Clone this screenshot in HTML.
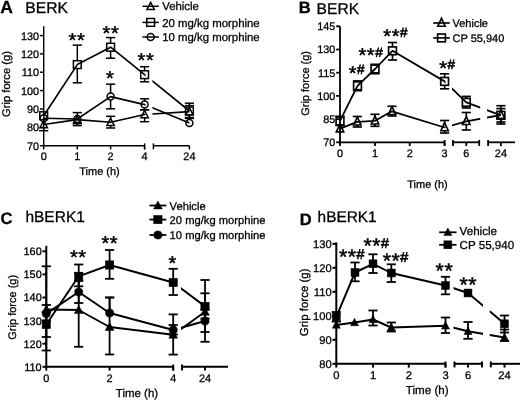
<!DOCTYPE html>
<html><head><meta charset="utf-8"><title>Grip force figure</title>
<style>
html,body{margin:0;padding:0;background:#fff;}
svg{display:block;font-family:"Liberation Sans", sans-serif;fill:#000;}
svg text{text-rendering:geometricPrecision;fill:#000;stroke:#000;stroke-width:0.28px;}
</style></head><body>
<svg width="520" height="402" viewBox="0 0 520 402">
<rect width="520" height="402" fill="#fff"/>
<text x="0.30" y="13.30" font-size="17.5" text-anchor="start" font-weight="bold" >A</text>
<text x="25.30" y="13.30" font-size="15.7" text-anchor="start" font-weight="normal" >BERK</text>
<line x1="43.70" y1="26.20" x2="43.70" y2="146.42" stroke="#000" stroke-width="1.45" />
<line x1="39.90" y1="35.60" x2="43.70" y2="35.60" stroke="#000" stroke-width="1.45" />
<text x="39.10" y="39.52" font-size="10.9" text-anchor="end" font-weight="normal" >130</text>
<line x1="39.90" y1="53.90" x2="43.70" y2="53.90" stroke="#000" stroke-width="1.45" />
<text x="39.10" y="57.82" font-size="10.9" text-anchor="end" font-weight="normal" >120</text>
<line x1="39.90" y1="72.20" x2="43.70" y2="72.20" stroke="#000" stroke-width="1.45" />
<text x="39.10" y="76.12" font-size="10.9" text-anchor="end" font-weight="normal" >110</text>
<line x1="39.90" y1="90.60" x2="43.70" y2="90.60" stroke="#000" stroke-width="1.45" />
<text x="39.10" y="94.52" font-size="10.9" text-anchor="end" font-weight="normal" >100</text>
<line x1="39.90" y1="109.00" x2="43.70" y2="109.00" stroke="#000" stroke-width="1.45" />
<text x="39.10" y="112.92" font-size="10.9" text-anchor="end" font-weight="normal" >90</text>
<line x1="39.90" y1="127.40" x2="43.70" y2="127.40" stroke="#000" stroke-width="1.45" />
<text x="39.10" y="131.32" font-size="10.9" text-anchor="end" font-weight="normal" >80</text>
<line x1="39.90" y1="145.70" x2="43.70" y2="145.70" stroke="#000" stroke-width="1.45" />
<text x="39.10" y="149.62" font-size="10.9" text-anchor="end" font-weight="normal" >70</text>
<line x1="43.70" y1="145.70" x2="144.60" y2="145.70" stroke="#000" stroke-width="1.45" />
<line x1="144.60" y1="143.40" x2="144.60" y2="149.30" stroke="#000" stroke-width="1.45" />
<line x1="153.40" y1="145.70" x2="189.40" y2="145.70" stroke="#000" stroke-width="1.45" />
<line x1="153.40" y1="143.40" x2="153.40" y2="149.30" stroke="#000" stroke-width="1.45" />
<line x1="43.70" y1="145.70" x2="43.70" y2="149.50" stroke="#000" stroke-width="1.45" />
<text x="43.70" y="160.40" font-size="10.9" text-anchor="middle" font-weight="normal" >0</text>
<line x1="77.30" y1="145.70" x2="77.30" y2="149.50" stroke="#000" stroke-width="1.45" />
<text x="77.30" y="160.40" font-size="10.9" text-anchor="middle" font-weight="normal" >1</text>
<line x1="110.60" y1="145.70" x2="110.60" y2="149.50" stroke="#000" stroke-width="1.45" />
<text x="110.60" y="160.40" font-size="10.9" text-anchor="middle" font-weight="normal" >2</text>
<line x1="144.60" y1="145.70" x2="144.60" y2="149.50" stroke="#000" stroke-width="1.45" />
<text x="144.60" y="160.40" font-size="10.9" text-anchor="middle" font-weight="normal" >4</text>
<line x1="189.40" y1="145.70" x2="189.40" y2="149.50" stroke="#000" stroke-width="1.45" />
<text x="189.40" y="160.40" font-size="10.9" text-anchor="middle" font-weight="normal" >24</text>
<text x="99.50" y="174.60" font-size="11" text-anchor="middle" font-weight="normal" >Time (h)</text>
<text transform="translate(9.60,84.00) rotate(-90)" font-size="11.2" text-anchor="middle">Grip force (g)</text>
<clipPath id="c1"><rect x="40.70" y="20" width="104.90" height="130"/><rect x="152.40" y="20" width="40.00" height="130"/></clipPath>
<line x1="43.70" y1="127.70" x2="43.70" y2="130.70" stroke="#000" stroke-width="1.5" />
<line x1="39.10" y1="130.70" x2="48.30" y2="130.70" stroke="#000" stroke-width="1.5" />
<line x1="77.30" y1="116.00" x2="77.30" y2="112.60" stroke="#000" stroke-width="1.5" />
<line x1="72.70" y1="112.60" x2="81.90" y2="112.60" stroke="#000" stroke-width="1.5" />
<line x1="77.30" y1="122.80" x2="77.30" y2="125.60" stroke="#000" stroke-width="1.5" />
<line x1="72.70" y1="125.60" x2="81.90" y2="125.60" stroke="#000" stroke-width="1.5" />
<line x1="110.60" y1="118.70" x2="110.60" y2="116.30" stroke="#000" stroke-width="1.5" />
<line x1="106.00" y1="116.30" x2="115.20" y2="116.30" stroke="#000" stroke-width="1.5" />
<line x1="110.60" y1="125.50" x2="110.60" y2="128.00" stroke="#000" stroke-width="1.5" />
<line x1="106.00" y1="128.00" x2="115.20" y2="128.00" stroke="#000" stroke-width="1.5" />
<line x1="144.60" y1="110.90" x2="144.60" y2="109.80" stroke="#000" stroke-width="1.5" />
<line x1="140.00" y1="109.80" x2="149.20" y2="109.80" stroke="#000" stroke-width="1.5" />
<line x1="144.60" y1="117.70" x2="144.60" y2="121.70" stroke="#000" stroke-width="1.5" />
<line x1="140.00" y1="121.70" x2="149.20" y2="121.70" stroke="#000" stroke-width="1.5" />
<line x1="189.40" y1="108.00" x2="189.40" y2="105.60" stroke="#000" stroke-width="1.5" />
<line x1="184.80" y1="105.60" x2="194.00" y2="105.60" stroke="#000" stroke-width="1.5" />
<line x1="189.40" y1="114.80" x2="189.40" y2="117.50" stroke="#000" stroke-width="1.5" />
<line x1="184.80" y1="117.50" x2="194.00" y2="117.50" stroke="#000" stroke-width="1.5" />
<polygon points="43.70,120.50 47.40,127.70 40.00,127.70" fill="none" stroke="#000" stroke-width="1.5" stroke-linejoin="miter"/>
<polygon points="77.30,115.60 81.00,122.80 73.60,122.80" fill="none" stroke="#000" stroke-width="1.5" stroke-linejoin="miter"/>
<polygon points="110.60,118.30 114.30,125.50 106.90,125.50" fill="none" stroke="#000" stroke-width="1.5" stroke-linejoin="miter"/>
<polygon points="144.60,110.50 148.30,117.70 140.90,117.70" fill="none" stroke="#000" stroke-width="1.5" stroke-linejoin="miter"/>
<polygon points="189.40,107.60 193.10,114.80 185.70,114.80" fill="none" stroke="#000" stroke-width="1.5" stroke-linejoin="miter"/>
<polyline points="43.70,124.50 77.30,119.60 110.60,122.30 144.60,114.50 189.40,111.60" fill="none" stroke="#000" stroke-width="1.65" stroke-linejoin="round" clip-path="url(#c1)"/>
<clipPath id="c2"><rect x="40.70" y="20" width="104.90" height="130"/><rect x="152.40" y="20" width="40.00" height="130"/></clipPath>
<line x1="77.30" y1="122.50" x2="77.30" y2="123.70" stroke="#000" stroke-width="1.5" />
<line x1="72.70" y1="123.70" x2="81.90" y2="123.70" stroke="#000" stroke-width="1.5" />
<line x1="110.60" y1="93.10" x2="110.60" y2="84.20" stroke="#000" stroke-width="1.5" />
<line x1="106.00" y1="84.20" x2="115.20" y2="84.20" stroke="#000" stroke-width="1.5" />
<line x1="110.60" y1="100.10" x2="110.60" y2="108.80" stroke="#000" stroke-width="1.5" />
<line x1="106.00" y1="108.80" x2="115.20" y2="108.80" stroke="#000" stroke-width="1.5" />
<line x1="144.60" y1="101.10" x2="144.60" y2="98.80" stroke="#000" stroke-width="1.5" />
<line x1="140.00" y1="98.80" x2="149.20" y2="98.80" stroke="#000" stroke-width="1.5" />
<line x1="144.60" y1="108.10" x2="144.60" y2="109.80" stroke="#000" stroke-width="1.5" />
<line x1="140.00" y1="109.80" x2="149.20" y2="109.80" stroke="#000" stroke-width="1.5" />
<circle cx="43.70" cy="118.30" r="3.5" fill="none" stroke="#000" stroke-width="1.5"/>
<circle cx="77.30" cy="119.00" r="3.5" fill="none" stroke="#000" stroke-width="1.5"/>
<circle cx="110.60" cy="96.60" r="3.5" fill="none" stroke="#000" stroke-width="1.5"/>
<circle cx="144.60" cy="104.60" r="3.5" fill="none" stroke="#000" stroke-width="1.5"/>
<circle cx="189.40" cy="123.00" r="3.5" fill="none" stroke="#000" stroke-width="1.5"/>
<polyline points="43.70,118.30 77.30,119.00 110.60,96.60 144.60,104.60 189.40,123.00" fill="none" stroke="#000" stroke-width="1.65" stroke-linejoin="round" clip-path="url(#c2)"/>
<clipPath id="c3"><rect x="40.70" y="20" width="104.90" height="130"/><rect x="152.40" y="20" width="40.00" height="130"/></clipPath>
<line x1="77.30" y1="60.70" x2="77.30" y2="45.10" stroke="#000" stroke-width="1.5" />
<line x1="72.70" y1="45.10" x2="81.90" y2="45.10" stroke="#000" stroke-width="1.5" />
<line x1="77.30" y1="68.50" x2="77.30" y2="82.80" stroke="#000" stroke-width="1.5" />
<line x1="72.70" y1="82.80" x2="81.90" y2="82.80" stroke="#000" stroke-width="1.5" />
<line x1="110.60" y1="43.30" x2="110.60" y2="37.60" stroke="#000" stroke-width="1.5" />
<line x1="106.00" y1="37.60" x2="115.20" y2="37.60" stroke="#000" stroke-width="1.5" />
<line x1="110.60" y1="51.10" x2="110.60" y2="58.20" stroke="#000" stroke-width="1.5" />
<line x1="106.00" y1="58.20" x2="115.20" y2="58.20" stroke="#000" stroke-width="1.5" />
<line x1="144.60" y1="70.80" x2="144.60" y2="66.70" stroke="#000" stroke-width="1.5" />
<line x1="140.00" y1="66.70" x2="149.20" y2="66.70" stroke="#000" stroke-width="1.5" />
<line x1="144.60" y1="78.60" x2="144.60" y2="81.80" stroke="#000" stroke-width="1.5" />
<line x1="140.00" y1="81.80" x2="149.20" y2="81.80" stroke="#000" stroke-width="1.5" />
<line x1="189.40" y1="107.10" x2="189.40" y2="103.20" stroke="#000" stroke-width="1.5" />
<line x1="184.80" y1="103.20" x2="194.00" y2="103.20" stroke="#000" stroke-width="1.5" />
<line x1="189.40" y1="114.90" x2="189.40" y2="118.40" stroke="#000" stroke-width="1.5" />
<line x1="184.80" y1="118.40" x2="194.00" y2="118.40" stroke="#000" stroke-width="1.5" />
<rect x="39.80" y="111.80" width="7.80" height="7.80" fill="none" stroke="#000" stroke-width="1.5"/>
<rect x="73.40" y="60.70" width="7.80" height="7.80" fill="none" stroke="#000" stroke-width="1.5"/>
<rect x="106.70" y="43.30" width="7.80" height="7.80" fill="none" stroke="#000" stroke-width="1.5"/>
<rect x="140.70" y="70.80" width="7.80" height="7.80" fill="none" stroke="#000" stroke-width="1.5"/>
<rect x="185.50" y="107.10" width="7.80" height="7.80" fill="none" stroke="#000" stroke-width="1.5"/>
<polyline points="43.70,115.70 77.30,64.60 110.60,47.20 144.60,74.70 189.40,111.00" fill="none" stroke="#000" stroke-width="1.65" stroke-linejoin="round" clip-path="url(#c3)"/>
<text text-anchor="middle" y="46.70"><tspan x="72.40 80.80" font-size="20.00" stroke-width="0.5">**</tspan></text>
<text text-anchor="middle" y="40.30"><tspan x="106.40 114.80" font-size="20.00" stroke-width="0.5">**</tspan></text>
<text text-anchor="middle" y="85.10"><tspan x="109.80" font-size="20.00" stroke-width="0.5">*</tspan></text>
<text text-anchor="middle" y="67.40"><tspan x="141.50 149.90" font-size="20.00" stroke-width="0.5">**</tspan></text>
<line x1="142.50" y1="6.30" x2="158.80" y2="6.30" stroke="#000" stroke-width="1.5" />
<polygon points="150.65,2.30 154.35,9.50 146.95,9.50" fill="none" stroke="#000" stroke-width="1.5" stroke-linejoin="miter"/>
<text x="162.20" y="10.40" font-size="11.4" text-anchor="start" font-weight="normal" >Vehicle</text>
<line x1="142.50" y1="22.40" x2="158.80" y2="22.40" stroke="#000" stroke-width="1.5" />
<rect x="146.75" y="18.50" width="7.80" height="7.80" fill="none" stroke="#000" stroke-width="1.5"/>
<text x="162.20" y="26.50" font-size="11.4" text-anchor="start" font-weight="normal" >20 mg/kg morphine</text>
<line x1="142.50" y1="37.00" x2="158.80" y2="37.00" stroke="#000" stroke-width="1.5" />
<circle cx="150.65" cy="37.00" r="3.5" fill="none" stroke="#000" stroke-width="1.5"/>
<text x="162.20" y="41.10" font-size="11.4" text-anchor="start" font-weight="normal" >10 mg/kg morphine</text>
<text x="298.80" y="12.80" font-size="16.5" text-anchor="start" font-weight="bold" >B</text>
<text x="316.60" y="13.80" font-size="15.6" text-anchor="start" font-weight="normal" >BERK</text>
<line x1="340.00" y1="26.20" x2="340.00" y2="143.20" stroke="#000" stroke-width="1.8" />
<line x1="336.20" y1="26.30" x2="340.00" y2="26.30" stroke="#000" stroke-width="1.8" />
<text x="335.40" y="30.22" font-size="10.9" text-anchor="end" font-weight="normal" >145</text>
<line x1="336.20" y1="49.50" x2="340.00" y2="49.50" stroke="#000" stroke-width="1.8" />
<text x="335.40" y="53.42" font-size="10.9" text-anchor="end" font-weight="normal" >130</text>
<line x1="336.20" y1="72.70" x2="340.00" y2="72.70" stroke="#000" stroke-width="1.8" />
<text x="335.40" y="76.62" font-size="10.9" text-anchor="end" font-weight="normal" >115</text>
<line x1="336.20" y1="95.90" x2="340.00" y2="95.90" stroke="#000" stroke-width="1.8" />
<text x="335.40" y="99.82" font-size="10.9" text-anchor="end" font-weight="normal" >100</text>
<line x1="336.20" y1="119.10" x2="340.00" y2="119.10" stroke="#000" stroke-width="1.8" />
<text x="335.40" y="123.02" font-size="10.9" text-anchor="end" font-weight="normal" >85</text>
<line x1="336.20" y1="142.30" x2="340.00" y2="142.30" stroke="#000" stroke-width="1.8" />
<text x="335.40" y="146.22" font-size="10.9" text-anchor="end" font-weight="normal" >70</text>
<line x1="340.00" y1="142.30" x2="444.60" y2="142.30" stroke="#000" stroke-width="1.8" />
<line x1="444.60" y1="140.00" x2="444.60" y2="145.90" stroke="#000" stroke-width="1.8" />
<line x1="453.00" y1="142.30" x2="479.20" y2="142.30" stroke="#000" stroke-width="1.8" />
<line x1="453.00" y1="140.00" x2="453.00" y2="145.90" stroke="#000" stroke-width="1.8" />
<line x1="479.20" y1="140.00" x2="479.20" y2="145.90" stroke="#000" stroke-width="1.8" />
<line x1="488.10" y1="142.30" x2="515.00" y2="142.30" stroke="#000" stroke-width="1.8" />
<line x1="488.10" y1="140.00" x2="488.10" y2="145.90" stroke="#000" stroke-width="1.8" />
<line x1="340.00" y1="142.30" x2="340.00" y2="146.10" stroke="#000" stroke-width="1.8" />
<text x="340.00" y="157.20" font-size="10.9" text-anchor="middle" font-weight="normal" >0</text>
<line x1="375.00" y1="142.30" x2="375.00" y2="146.10" stroke="#000" stroke-width="1.8" />
<text x="375.00" y="157.20" font-size="10.9" text-anchor="middle" font-weight="normal" >1</text>
<line x1="409.70" y1="142.30" x2="409.70" y2="146.10" stroke="#000" stroke-width="1.8" />
<text x="409.70" y="157.20" font-size="10.9" text-anchor="middle" font-weight="normal" >2</text>
<line x1="444.60" y1="142.30" x2="444.60" y2="146.10" stroke="#000" stroke-width="1.8" />
<text x="444.60" y="157.20" font-size="10.9" text-anchor="middle" font-weight="normal" >3</text>
<line x1="466.30" y1="142.30" x2="466.30" y2="146.10" stroke="#000" stroke-width="1.8" />
<text x="466.30" y="157.20" font-size="10.9" text-anchor="middle" font-weight="normal" >6</text>
<line x1="500.90" y1="142.30" x2="500.90" y2="146.10" stroke="#000" stroke-width="1.8" />
<text x="500.90" y="157.20" font-size="10.9" text-anchor="middle" font-weight="normal" >24</text>
<text x="427.50" y="188.00" font-size="11" text-anchor="middle" font-weight="normal" >Time (h)</text>
<text transform="translate(309.20,83.40) rotate(-90)" font-size="11" text-anchor="middle">Grip force (g)</text>
<clipPath id="c4"><rect x="337.00" y="20" width="108.60" height="130"/><rect x="452.00" y="20" width="28.20" height="130"/><rect x="487.10" y="20" width="30.90" height="130"/></clipPath>
<line x1="357.30" y1="118.20" x2="357.30" y2="116.50" stroke="#000" stroke-width="1.65" />
<line x1="352.70" y1="116.50" x2="361.90" y2="116.50" stroke="#000" stroke-width="1.65" />
<line x1="357.30" y1="125.00" x2="357.30" y2="127.00" stroke="#000" stroke-width="1.65" />
<line x1="352.70" y1="127.00" x2="361.90" y2="127.00" stroke="#000" stroke-width="1.65" />
<line x1="375.00" y1="117.20" x2="375.00" y2="114.30" stroke="#000" stroke-width="1.65" />
<line x1="370.40" y1="114.30" x2="379.60" y2="114.30" stroke="#000" stroke-width="1.65" />
<line x1="375.00" y1="124.00" x2="375.00" y2="126.30" stroke="#000" stroke-width="1.65" />
<line x1="370.40" y1="126.30" x2="379.60" y2="126.30" stroke="#000" stroke-width="1.65" />
<line x1="392.00" y1="107.70" x2="392.00" y2="106.30" stroke="#000" stroke-width="1.65" />
<line x1="387.40" y1="106.30" x2="396.60" y2="106.30" stroke="#000" stroke-width="1.65" />
<line x1="392.00" y1="114.50" x2="392.00" y2="116.00" stroke="#000" stroke-width="1.65" />
<line x1="387.40" y1="116.00" x2="396.60" y2="116.00" stroke="#000" stroke-width="1.65" />
<line x1="444.60" y1="123.90" x2="444.60" y2="120.50" stroke="#000" stroke-width="1.65" />
<line x1="440.00" y1="120.50" x2="449.20" y2="120.50" stroke="#000" stroke-width="1.65" />
<line x1="444.60" y1="130.70" x2="444.60" y2="133.00" stroke="#000" stroke-width="1.65" />
<line x1="440.00" y1="133.00" x2="449.20" y2="133.00" stroke="#000" stroke-width="1.65" />
<line x1="466.30" y1="117.70" x2="466.30" y2="112.50" stroke="#000" stroke-width="1.65" />
<line x1="461.70" y1="112.50" x2="470.90" y2="112.50" stroke="#000" stroke-width="1.65" />
<line x1="466.30" y1="124.50" x2="466.30" y2="130.00" stroke="#000" stroke-width="1.65" />
<line x1="461.70" y1="130.00" x2="470.90" y2="130.00" stroke="#000" stroke-width="1.65" />
<line x1="500.90" y1="111.40" x2="500.90" y2="105.70" stroke="#000" stroke-width="1.65" />
<line x1="496.30" y1="105.70" x2="505.50" y2="105.70" stroke="#000" stroke-width="1.65" />
<line x1="500.90" y1="118.20" x2="500.90" y2="124.00" stroke="#000" stroke-width="1.65" />
<line x1="496.30" y1="124.00" x2="505.50" y2="124.00" stroke="#000" stroke-width="1.65" />
<polygon points="340.00,124.00 343.70,131.90 336.30,131.90" fill="none" stroke="#000" stroke-width="1.65" stroke-linejoin="miter"/>
<polygon points="357.30,117.10 361.00,125.00 353.60,125.00" fill="none" stroke="#000" stroke-width="1.65" stroke-linejoin="miter"/>
<polygon points="375.00,116.10 378.70,124.00 371.30,124.00" fill="none" stroke="#000" stroke-width="1.65" stroke-linejoin="miter"/>
<polygon points="392.00,106.60 395.70,114.50 388.30,114.50" fill="none" stroke="#000" stroke-width="1.65" stroke-linejoin="miter"/>
<polygon points="444.60,122.80 448.30,130.70 440.90,130.70" fill="none" stroke="#000" stroke-width="1.65" stroke-linejoin="miter"/>
<polygon points="466.30,116.60 470.00,124.50 462.60,124.50" fill="none" stroke="#000" stroke-width="1.65" stroke-linejoin="miter"/>
<polygon points="500.90,110.30 504.60,118.20 497.20,118.20" fill="none" stroke="#000" stroke-width="1.65" stroke-linejoin="miter"/>
<polyline points="340.00,128.70 357.30,121.80 375.00,120.80 392.00,111.30 444.60,127.50 466.30,121.30 500.90,115.00" fill="none" stroke="#000" stroke-width="1.7999999999999998" stroke-linejoin="round" clip-path="url(#c4)"/>
<clipPath id="c5"><rect x="337.00" y="20" width="108.60" height="130"/><rect x="452.00" y="20" width="28.20" height="130"/><rect x="487.10" y="20" width="30.90" height="130"/></clipPath>
<line x1="340.00" y1="117.00" x2="340.00" y2="116.30" stroke="#000" stroke-width="1.65" />
<line x1="335.40" y1="116.30" x2="344.60" y2="116.30" stroke="#000" stroke-width="1.65" />
<line x1="340.00" y1="124.80" x2="340.00" y2="125.50" stroke="#000" stroke-width="1.65" />
<line x1="335.40" y1="125.50" x2="344.60" y2="125.50" stroke="#000" stroke-width="1.65" />
<line x1="357.50" y1="81.90" x2="357.50" y2="80.90" stroke="#000" stroke-width="1.65" />
<line x1="352.90" y1="80.90" x2="362.10" y2="80.90" stroke="#000" stroke-width="1.65" />
<line x1="357.50" y1="89.70" x2="357.50" y2="90.70" stroke="#000" stroke-width="1.65" />
<line x1="352.90" y1="90.70" x2="362.10" y2="90.70" stroke="#000" stroke-width="1.65" />
<line x1="375.00" y1="65.10" x2="375.00" y2="64.30" stroke="#000" stroke-width="1.65" />
<line x1="370.40" y1="64.30" x2="379.60" y2="64.30" stroke="#000" stroke-width="1.65" />
<line x1="375.00" y1="72.90" x2="375.00" y2="73.70" stroke="#000" stroke-width="1.65" />
<line x1="370.40" y1="73.70" x2="379.60" y2="73.70" stroke="#000" stroke-width="1.65" />
<line x1="392.50" y1="46.90" x2="392.50" y2="42.50" stroke="#000" stroke-width="1.65" />
<line x1="387.90" y1="42.50" x2="397.10" y2="42.50" stroke="#000" stroke-width="1.65" />
<line x1="392.50" y1="54.70" x2="392.50" y2="60.00" stroke="#000" stroke-width="1.65" />
<line x1="387.90" y1="60.00" x2="397.10" y2="60.00" stroke="#000" stroke-width="1.65" />
<line x1="444.60" y1="77.50" x2="444.60" y2="73.80" stroke="#000" stroke-width="1.65" />
<line x1="440.00" y1="73.80" x2="449.20" y2="73.80" stroke="#000" stroke-width="1.65" />
<line x1="444.60" y1="85.30" x2="444.60" y2="88.80" stroke="#000" stroke-width="1.65" />
<line x1="440.00" y1="88.80" x2="449.20" y2="88.80" stroke="#000" stroke-width="1.65" />
<line x1="466.30" y1="98.40" x2="466.30" y2="96.40" stroke="#000" stroke-width="1.65" />
<line x1="461.70" y1="96.40" x2="470.90" y2="96.40" stroke="#000" stroke-width="1.65" />
<line x1="466.30" y1="106.20" x2="466.30" y2="108.00" stroke="#000" stroke-width="1.65" />
<line x1="461.70" y1="108.00" x2="470.90" y2="108.00" stroke="#000" stroke-width="1.65" />
<line x1="500.90" y1="111.40" x2="500.90" y2="108.60" stroke="#000" stroke-width="1.65" />
<line x1="496.30" y1="108.60" x2="505.50" y2="108.60" stroke="#000" stroke-width="1.65" />
<line x1="500.90" y1="119.20" x2="500.90" y2="122.00" stroke="#000" stroke-width="1.65" />
<line x1="496.30" y1="122.00" x2="505.50" y2="122.00" stroke="#000" stroke-width="1.65" />
<rect x="336.10" y="117.00" width="7.80" height="7.80" fill="none" stroke="#000" stroke-width="1.65"/>
<rect x="353.60" y="81.90" width="7.80" height="7.80" fill="none" stroke="#000" stroke-width="1.65"/>
<rect x="371.10" y="65.10" width="7.80" height="7.80" fill="none" stroke="#000" stroke-width="1.65"/>
<rect x="388.60" y="46.90" width="7.80" height="7.80" fill="none" stroke="#000" stroke-width="1.65"/>
<rect x="440.70" y="77.50" width="7.80" height="7.80" fill="none" stroke="#000" stroke-width="1.65"/>
<rect x="462.40" y="98.40" width="7.80" height="7.80" fill="none" stroke="#000" stroke-width="1.65"/>
<rect x="497.00" y="111.40" width="7.80" height="7.80" fill="none" stroke="#000" stroke-width="1.65"/>
<polyline points="340.00,120.90 357.50,85.80 375.00,69.00 392.50,50.80 444.60,81.40 466.30,102.30 500.90,115.30" fill="none" stroke="#000" stroke-width="1.7999999999999998" stroke-linejoin="round" clip-path="url(#c5)"/>
<text text-anchor="middle" y="79.70"><tspan x="352.55" font-size="20.00" stroke-width="0.5">*</tspan><tspan x="360.70" y="74.45" font-size="13.50" stroke-width="0.6">#</tspan></text>
<text text-anchor="middle" y="62.20"><tspan x="362.35 370.75" font-size="20.00" stroke-width="0.5">**</tspan><tspan x="378.90" y="56.95" font-size="13.50" stroke-width="0.6">#</tspan></text>
<text text-anchor="middle" y="42.70"><tspan x="387.15 395.55" font-size="20.00" stroke-width="0.5">**</tspan><tspan x="403.70" y="37.45" font-size="13.50" stroke-width="0.6">#</tspan></text>
<text text-anchor="middle" y="74.70"><tspan x="443.05" font-size="20.00" stroke-width="0.5">*</tspan><tspan x="451.20" y="69.45" font-size="13.50" stroke-width="0.6">#</tspan></text>
<line x1="433.20" y1="23.00" x2="449.80" y2="23.00" stroke="#000" stroke-width="1.65" />
<polygon points="441.50,18.30 445.20,26.20 437.80,26.20" fill="none" stroke="#000" stroke-width="1.65" stroke-linejoin="miter"/>
<text x="452.50" y="26.96" font-size="11" text-anchor="start" font-weight="normal" >Vehicle</text>
<line x1="433.20" y1="37.90" x2="449.80" y2="37.90" stroke="#000" stroke-width="1.65" />
<rect x="437.60" y="34.00" width="7.80" height="7.80" fill="none" stroke="#000" stroke-width="1.65"/>
<text x="452.50" y="41.86" font-size="11" text-anchor="start" font-weight="normal" >CP 55,940</text>
<text x="0.60" y="223.50" font-size="16.5" text-anchor="start" font-weight="bold" >C</text>
<text x="25.40" y="221.70" font-size="15.5" text-anchor="start" font-weight="normal" >hBERK1</text>
<line x1="46.30" y1="245.80" x2="46.30" y2="367.78" stroke="#000" stroke-width="1.95" />
<line x1="42.50" y1="251.30" x2="46.30" y2="251.30" stroke="#000" stroke-width="1.95" />
<text x="41.70" y="255.22" font-size="10.9" text-anchor="end" font-weight="normal" >160</text>
<line x1="42.50" y1="274.40" x2="46.30" y2="274.40" stroke="#000" stroke-width="1.95" />
<text x="41.70" y="278.32" font-size="10.9" text-anchor="end" font-weight="normal" >150</text>
<line x1="42.50" y1="297.50" x2="46.30" y2="297.50" stroke="#000" stroke-width="1.95" />
<text x="41.70" y="301.42" font-size="10.9" text-anchor="end" font-weight="normal" >140</text>
<line x1="42.50" y1="320.60" x2="46.30" y2="320.60" stroke="#000" stroke-width="1.95" />
<text x="41.70" y="324.52" font-size="10.9" text-anchor="end" font-weight="normal" >130</text>
<line x1="42.50" y1="343.70" x2="46.30" y2="343.70" stroke="#000" stroke-width="1.95" />
<text x="41.70" y="347.62" font-size="10.9" text-anchor="end" font-weight="normal" >120</text>
<line x1="42.50" y1="366.80" x2="46.30" y2="366.80" stroke="#000" stroke-width="1.95" />
<text x="41.70" y="370.72" font-size="10.9" text-anchor="end" font-weight="normal" >110</text>
<line x1="46.30" y1="366.80" x2="173.20" y2="366.80" stroke="#000" stroke-width="1.95" />
<line x1="173.20" y1="364.50" x2="173.20" y2="370.40" stroke="#000" stroke-width="1.95" />
<line x1="182.00" y1="366.80" x2="228.00" y2="366.80" stroke="#000" stroke-width="1.95" />
<line x1="182.00" y1="364.50" x2="182.00" y2="370.40" stroke="#000" stroke-width="1.95" />
<line x1="46.30" y1="366.80" x2="46.30" y2="370.60" stroke="#000" stroke-width="1.95" />
<text x="46.30" y="382.00" font-size="10.9" text-anchor="middle" font-weight="normal" >0</text>
<line x1="109.60" y1="366.80" x2="109.60" y2="370.60" stroke="#000" stroke-width="1.95" />
<text x="109.60" y="382.00" font-size="10.9" text-anchor="middle" font-weight="normal" >2</text>
<line x1="173.20" y1="366.80" x2="173.20" y2="370.60" stroke="#000" stroke-width="1.95" />
<text x="173.20" y="382.00" font-size="10.9" text-anchor="middle" font-weight="normal" >4</text>
<line x1="205.00" y1="366.80" x2="205.00" y2="370.60" stroke="#000" stroke-width="1.95" />
<text x="205.00" y="382.00" font-size="10.9" text-anchor="middle" font-weight="normal" >24</text>
<text x="137.00" y="397.20" font-size="11.5" text-anchor="middle" font-weight="normal" >Time (h)</text>
<text transform="translate(15.90,307.30) rotate(-90)" font-size="11" text-anchor="middle">Grip force (g)</text>
<clipPath id="c6"><rect x="43.30" y="240" width="130.90" height="130"/><rect x="181.00" y="240" width="50.00" height="130"/></clipPath>
<line x1="46.30" y1="309.50" x2="46.30" y2="266.30" stroke="#000" stroke-width="1.8" />
<line x1="41.70" y1="266.30" x2="50.90" y2="266.30" stroke="#000" stroke-width="1.8" />
<line x1="46.30" y1="309.50" x2="46.30" y2="350.50" stroke="#000" stroke-width="1.8" />
<line x1="41.70" y1="350.50" x2="50.90" y2="350.50" stroke="#000" stroke-width="1.8" />
<line x1="78.70" y1="310.00" x2="78.70" y2="273.30" stroke="#000" stroke-width="1.8" />
<line x1="74.10" y1="273.30" x2="83.30" y2="273.30" stroke="#000" stroke-width="1.8" />
<line x1="78.70" y1="310.00" x2="78.70" y2="346.80" stroke="#000" stroke-width="1.8" />
<line x1="74.10" y1="346.80" x2="83.30" y2="346.80" stroke="#000" stroke-width="1.8" />
<line x1="109.60" y1="327.00" x2="109.60" y2="297.50" stroke="#000" stroke-width="1.8" />
<line x1="105.00" y1="297.50" x2="114.20" y2="297.50" stroke="#000" stroke-width="1.8" />
<line x1="109.60" y1="327.00" x2="109.60" y2="354.50" stroke="#000" stroke-width="1.8" />
<line x1="105.00" y1="354.50" x2="114.20" y2="354.50" stroke="#000" stroke-width="1.8" />
<line x1="173.20" y1="334.80" x2="173.20" y2="314.40" stroke="#000" stroke-width="1.8" />
<line x1="168.60" y1="314.40" x2="177.80" y2="314.40" stroke="#000" stroke-width="1.8" />
<line x1="173.20" y1="334.80" x2="173.20" y2="354.60" stroke="#000" stroke-width="1.8" />
<line x1="168.60" y1="354.60" x2="177.80" y2="354.60" stroke="#000" stroke-width="1.8" />
<line x1="205.00" y1="311.80" x2="205.00" y2="280.00" stroke="#000" stroke-width="1.8" />
<line x1="200.40" y1="280.00" x2="209.60" y2="280.00" stroke="#000" stroke-width="1.8" />
<line x1="205.00" y1="311.80" x2="205.00" y2="341.80" stroke="#000" stroke-width="1.8" />
<line x1="200.40" y1="341.80" x2="209.60" y2="341.80" stroke="#000" stroke-width="1.8" />
<polygon points="46.30,305.10 50.70,312.90 41.90,312.90" fill="#000" stroke="#000" stroke-width="0.5" stroke-linejoin="miter"/>
<polygon points="78.70,305.60 83.10,313.40 74.30,313.40" fill="#000" stroke="#000" stroke-width="0.5" stroke-linejoin="miter"/>
<polygon points="109.60,322.60 114.00,330.40 105.20,330.40" fill="#000" stroke="#000" stroke-width="0.5" stroke-linejoin="miter"/>
<polygon points="173.20,330.40 177.60,338.20 168.80,338.20" fill="#000" stroke="#000" stroke-width="0.5" stroke-linejoin="miter"/>
<polygon points="205.00,307.40 209.40,315.20 200.60,315.20" fill="#000" stroke="#000" stroke-width="0.5" stroke-linejoin="miter"/>
<polyline points="46.30,309.50 78.70,310.00 109.60,327.00 173.20,334.80 205.00,311.80" fill="none" stroke="#000" stroke-width="1.95" stroke-linejoin="round" clip-path="url(#c6)"/>
<clipPath id="c7"><rect x="43.30" y="240" width="130.90" height="130"/><rect x="181.00" y="240" width="50.00" height="130"/></clipPath>
<line x1="46.30" y1="313.60" x2="46.30" y2="305.00" stroke="#000" stroke-width="1.8" />
<line x1="41.70" y1="305.00" x2="50.90" y2="305.00" stroke="#000" stroke-width="1.8" />
<line x1="46.30" y1="313.60" x2="46.30" y2="320.50" stroke="#000" stroke-width="1.8" />
<line x1="41.70" y1="320.50" x2="50.90" y2="320.50" stroke="#000" stroke-width="1.8" />
<line x1="78.70" y1="292.00" x2="78.70" y2="281.00" stroke="#000" stroke-width="1.8" />
<line x1="74.10" y1="281.00" x2="83.30" y2="281.00" stroke="#000" stroke-width="1.8" />
<line x1="78.70" y1="292.00" x2="78.70" y2="303.00" stroke="#000" stroke-width="1.8" />
<line x1="74.10" y1="303.00" x2="83.30" y2="303.00" stroke="#000" stroke-width="1.8" />
<line x1="109.60" y1="313.00" x2="109.60" y2="297.50" stroke="#000" stroke-width="1.8" />
<line x1="105.00" y1="297.50" x2="114.20" y2="297.50" stroke="#000" stroke-width="1.8" />
<line x1="173.20" y1="330.00" x2="173.20" y2="325.00" stroke="#000" stroke-width="1.8" />
<line x1="168.60" y1="325.00" x2="177.80" y2="325.00" stroke="#000" stroke-width="1.8" />
<line x1="173.20" y1="330.00" x2="173.20" y2="334.50" stroke="#000" stroke-width="1.8" />
<line x1="168.60" y1="334.50" x2="177.80" y2="334.50" stroke="#000" stroke-width="1.8" />
<line x1="205.00" y1="321.00" x2="205.00" y2="309.50" stroke="#000" stroke-width="1.8" />
<line x1="200.40" y1="309.50" x2="209.60" y2="309.50" stroke="#000" stroke-width="1.8" />
<line x1="205.00" y1="321.00" x2="205.00" y2="332.00" stroke="#000" stroke-width="1.8" />
<line x1="200.40" y1="332.00" x2="209.60" y2="332.00" stroke="#000" stroke-width="1.8" />
<circle cx="46.30" cy="313.60" r="4.1" fill="#000" stroke="#000" stroke-width="0.5"/>
<circle cx="78.70" cy="292.00" r="4.1" fill="#000" stroke="#000" stroke-width="0.5"/>
<circle cx="109.60" cy="313.00" r="4.1" fill="#000" stroke="#000" stroke-width="0.5"/>
<circle cx="173.20" cy="330.00" r="4.1" fill="#000" stroke="#000" stroke-width="0.5"/>
<circle cx="205.00" cy="321.00" r="4.1" fill="#000" stroke="#000" stroke-width="0.5"/>
<polyline points="46.30,313.60 78.70,292.00 109.60,313.00 173.20,330.00 205.00,321.00" fill="none" stroke="#000" stroke-width="1.95" stroke-linejoin="round" clip-path="url(#c7)"/>
<clipPath id="c8"><rect x="43.30" y="240" width="130.90" height="130"/><rect x="181.00" y="240" width="50.00" height="130"/></clipPath>
<line x1="46.30" y1="324.50" x2="46.30" y2="312.00" stroke="#000" stroke-width="1.8" />
<line x1="41.70" y1="312.00" x2="50.90" y2="312.00" stroke="#000" stroke-width="1.8" />
<line x1="46.30" y1="324.50" x2="46.30" y2="337.00" stroke="#000" stroke-width="1.8" />
<line x1="41.70" y1="337.00" x2="50.90" y2="337.00" stroke="#000" stroke-width="1.8" />
<line x1="78.70" y1="276.30" x2="78.70" y2="264.50" stroke="#000" stroke-width="1.8" />
<line x1="74.10" y1="264.50" x2="83.30" y2="264.50" stroke="#000" stroke-width="1.8" />
<line x1="78.70" y1="276.30" x2="78.70" y2="286.30" stroke="#000" stroke-width="1.8" />
<line x1="74.10" y1="286.30" x2="83.30" y2="286.30" stroke="#000" stroke-width="1.8" />
<line x1="109.60" y1="265.00" x2="109.60" y2="250.00" stroke="#000" stroke-width="1.8" />
<line x1="105.00" y1="250.00" x2="114.20" y2="250.00" stroke="#000" stroke-width="1.8" />
<line x1="109.60" y1="265.00" x2="109.60" y2="278.80" stroke="#000" stroke-width="1.8" />
<line x1="105.00" y1="278.80" x2="114.20" y2="278.80" stroke="#000" stroke-width="1.8" />
<line x1="173.20" y1="282.50" x2="173.20" y2="268.80" stroke="#000" stroke-width="1.8" />
<line x1="168.60" y1="268.80" x2="177.80" y2="268.80" stroke="#000" stroke-width="1.8" />
<line x1="173.20" y1="282.50" x2="173.20" y2="295.00" stroke="#000" stroke-width="1.8" />
<line x1="168.60" y1="295.00" x2="177.80" y2="295.00" stroke="#000" stroke-width="1.8" />
<line x1="205.00" y1="306.40" x2="205.00" y2="293.30" stroke="#000" stroke-width="1.8" />
<line x1="200.40" y1="293.30" x2="209.60" y2="293.30" stroke="#000" stroke-width="1.8" />
<line x1="205.00" y1="306.40" x2="205.00" y2="318.50" stroke="#000" stroke-width="1.8" />
<line x1="200.40" y1="318.50" x2="209.60" y2="318.50" stroke="#000" stroke-width="1.8" />
<rect x="42.15" y="320.35" width="8.30" height="8.30" fill="#000" stroke="#000" stroke-width="0.5"/>
<rect x="74.55" y="272.15" width="8.30" height="8.30" fill="#000" stroke="#000" stroke-width="0.5"/>
<rect x="105.45" y="260.85" width="8.30" height="8.30" fill="#000" stroke="#000" stroke-width="0.5"/>
<rect x="169.05" y="278.35" width="8.30" height="8.30" fill="#000" stroke="#000" stroke-width="0.5"/>
<rect x="200.85" y="302.25" width="8.30" height="8.30" fill="#000" stroke="#000" stroke-width="0.5"/>
<polyline points="46.30,324.50 78.70,276.30 109.60,265.00 173.20,282.50 205.00,306.40" fill="none" stroke="#000" stroke-width="1.95" stroke-linejoin="round" clip-path="url(#c8)"/>
<text text-anchor="middle" y="264.20"><tspan x="73.80 82.20" font-size="20.00" stroke-width="0.5">**</tspan></text>
<text text-anchor="middle" y="249.70"><tspan x="105.30 113.70" font-size="20.00" stroke-width="0.5">**</tspan></text>
<text text-anchor="middle" y="269.70"><tspan x="172.50" font-size="20.00" stroke-width="0.5">*</tspan></text>
<line x1="149.50" y1="205.50" x2="166.30" y2="205.50" stroke="#000" stroke-width="1.8" />
<polygon points="157.90,201.10 162.30,208.90 153.50,208.90" fill="#000" stroke="#000" stroke-width="0.5" stroke-linejoin="miter"/>
<text x="169.60" y="209.53" font-size="11.2" text-anchor="start" font-weight="normal" >Vehicle</text>
<line x1="149.50" y1="219.60" x2="166.30" y2="219.60" stroke="#000" stroke-width="1.8" />
<rect x="153.75" y="215.45" width="8.30" height="8.30" fill="#000" stroke="#000" stroke-width="0.5"/>
<text x="169.60" y="223.63" font-size="11.2" text-anchor="start" font-weight="normal" >20 mg/kg morphine</text>
<line x1="149.50" y1="235.00" x2="166.30" y2="235.00" stroke="#000" stroke-width="1.8" />
<circle cx="157.90" cy="235.00" r="4.1" fill="#000" stroke="#000" stroke-width="0.5"/>
<text x="169.60" y="239.03" font-size="11.2" text-anchor="start" font-weight="normal" >10 mg/kg morphine</text>
<text x="299.80" y="224.60" font-size="16.5" text-anchor="start" font-weight="bold" >D</text>
<text x="317.60" y="221.70" font-size="15.4" text-anchor="start" font-weight="normal" >hBERK1</text>
<line x1="336.30" y1="242.50" x2="336.30" y2="364.80" stroke="#000" stroke-width="2.0" />
<line x1="332.50" y1="243.80" x2="336.30" y2="243.80" stroke="#000" stroke-width="2.0" />
<text x="331.70" y="247.83" font-size="11.2" text-anchor="end" font-weight="normal" >130</text>
<line x1="332.50" y1="267.80" x2="336.30" y2="267.80" stroke="#000" stroke-width="2.0" />
<text x="331.70" y="271.83" font-size="11.2" text-anchor="end" font-weight="normal" >120</text>
<line x1="332.50" y1="291.80" x2="336.30" y2="291.80" stroke="#000" stroke-width="2.0" />
<text x="331.70" y="295.83" font-size="11.2" text-anchor="end" font-weight="normal" >110</text>
<line x1="332.50" y1="315.80" x2="336.30" y2="315.80" stroke="#000" stroke-width="2.0" />
<text x="331.70" y="319.83" font-size="11.2" text-anchor="end" font-weight="normal" >100</text>
<line x1="332.50" y1="339.80" x2="336.30" y2="339.80" stroke="#000" stroke-width="2.0" />
<text x="331.70" y="343.83" font-size="11.2" text-anchor="end" font-weight="normal" >90</text>
<line x1="332.50" y1="363.80" x2="336.30" y2="363.80" stroke="#000" stroke-width="2.0" />
<text x="331.70" y="367.83" font-size="11.2" text-anchor="end" font-weight="normal" >80</text>
<line x1="336.30" y1="363.80" x2="445.50" y2="363.80" stroke="#000" stroke-width="2.0" />
<line x1="445.50" y1="361.50" x2="445.50" y2="367.40" stroke="#000" stroke-width="2.0" />
<line x1="454.50" y1="363.80" x2="482.00" y2="363.80" stroke="#000" stroke-width="2.0" />
<line x1="454.50" y1="361.50" x2="454.50" y2="367.40" stroke="#000" stroke-width="2.0" />
<line x1="482.00" y1="361.50" x2="482.00" y2="367.40" stroke="#000" stroke-width="2.0" />
<line x1="490.80" y1="363.80" x2="521.00" y2="363.80" stroke="#000" stroke-width="2.0" />
<line x1="490.80" y1="361.50" x2="490.80" y2="367.40" stroke="#000" stroke-width="2.0" />
<line x1="336.30" y1="363.80" x2="336.30" y2="367.60" stroke="#000" stroke-width="2.0" />
<text x="336.30" y="379.30" font-size="11.2" text-anchor="middle" font-weight="normal" >0</text>
<line x1="373.00" y1="363.80" x2="373.00" y2="367.60" stroke="#000" stroke-width="2.0" />
<text x="373.00" y="379.30" font-size="11.2" text-anchor="middle" font-weight="normal" >1</text>
<line x1="408.80" y1="363.80" x2="408.80" y2="367.60" stroke="#000" stroke-width="2.0" />
<text x="408.80" y="379.30" font-size="11.2" text-anchor="middle" font-weight="normal" >2</text>
<line x1="445.50" y1="363.80" x2="445.50" y2="367.60" stroke="#000" stroke-width="2.0" />
<text x="445.50" y="379.30" font-size="11.2" text-anchor="middle" font-weight="normal" >3</text>
<line x1="468.00" y1="363.80" x2="468.00" y2="367.60" stroke="#000" stroke-width="2.0" />
<text x="468.00" y="379.30" font-size="11.2" text-anchor="middle" font-weight="normal" >6</text>
<line x1="504.50" y1="363.80" x2="504.50" y2="367.60" stroke="#000" stroke-width="2.0" />
<text x="504.50" y="379.30" font-size="11.2" text-anchor="middle" font-weight="normal" >24</text>
<text x="427.20" y="394.30" font-size="11.6" text-anchor="middle" font-weight="normal" >Time (h)</text>
<text transform="translate(308.00,302.30) rotate(-90)" font-size="11.5" text-anchor="middle">Grip force (g)</text>
<clipPath id="c9"><rect x="333.30" y="240" width="113.20" height="126"/><rect x="453.50" y="240" width="29.50" height="126"/><rect x="489.80" y="240" width="34.20" height="126"/></clipPath>
<line x1="373.00" y1="319.50" x2="373.00" y2="310.50" stroke="#000" stroke-width="1.8" />
<line x1="368.40" y1="310.50" x2="377.60" y2="310.50" stroke="#000" stroke-width="1.8" />
<line x1="373.00" y1="319.50" x2="373.00" y2="325.50" stroke="#000" stroke-width="1.8" />
<line x1="368.40" y1="325.50" x2="377.60" y2="325.50" stroke="#000" stroke-width="1.8" />
<line x1="391.30" y1="327.50" x2="391.30" y2="322.50" stroke="#000" stroke-width="1.8" />
<line x1="386.70" y1="322.50" x2="395.90" y2="322.50" stroke="#000" stroke-width="1.8" />
<line x1="391.30" y1="327.50" x2="391.30" y2="331.50" stroke="#000" stroke-width="1.8" />
<line x1="386.70" y1="331.50" x2="395.90" y2="331.50" stroke="#000" stroke-width="1.8" />
<line x1="445.50" y1="325.80" x2="445.50" y2="317.50" stroke="#000" stroke-width="1.8" />
<line x1="440.90" y1="317.50" x2="450.10" y2="317.50" stroke="#000" stroke-width="1.8" />
<line x1="445.50" y1="325.80" x2="445.50" y2="333.00" stroke="#000" stroke-width="1.8" />
<line x1="440.90" y1="333.00" x2="450.10" y2="333.00" stroke="#000" stroke-width="1.8" />
<line x1="468.00" y1="331.30" x2="468.00" y2="322.00" stroke="#000" stroke-width="1.8" />
<line x1="463.40" y1="322.00" x2="472.60" y2="322.00" stroke="#000" stroke-width="1.8" />
<line x1="468.00" y1="331.30" x2="468.00" y2="338.80" stroke="#000" stroke-width="1.8" />
<line x1="463.40" y1="338.80" x2="472.60" y2="338.80" stroke="#000" stroke-width="1.8" />
<line x1="504.50" y1="337.50" x2="504.50" y2="329.50" stroke="#000" stroke-width="1.8" />
<line x1="499.90" y1="329.50" x2="509.10" y2="329.50" stroke="#000" stroke-width="1.8" />
<line x1="504.50" y1="337.50" x2="504.50" y2="341.00" stroke="#000" stroke-width="1.8" />
<line x1="499.90" y1="341.00" x2="509.10" y2="341.00" stroke="#000" stroke-width="1.8" />
<polygon points="336.30,320.80 340.30,328.20 332.30,328.20" fill="#000" stroke="#000" stroke-width="0.5" stroke-linejoin="miter"/>
<polygon points="354.50,318.30 358.50,325.70 350.50,325.70" fill="#000" stroke="#000" stroke-width="0.5" stroke-linejoin="miter"/>
<polygon points="373.00,315.30 377.00,322.70 369.00,322.70" fill="#000" stroke="#000" stroke-width="0.5" stroke-linejoin="miter"/>
<polygon points="391.30,323.30 395.30,330.70 387.30,330.70" fill="#000" stroke="#000" stroke-width="0.5" stroke-linejoin="miter"/>
<polygon points="445.50,321.60 449.50,329.00 441.50,329.00" fill="#000" stroke="#000" stroke-width="0.5" stroke-linejoin="miter"/>
<polygon points="468.00,327.10 472.00,334.50 464.00,334.50" fill="#000" stroke="#000" stroke-width="0.5" stroke-linejoin="miter"/>
<polygon points="504.50,333.30 508.50,340.70 500.50,340.70" fill="#000" stroke="#000" stroke-width="0.5" stroke-linejoin="miter"/>
<polyline points="336.30,325.00 354.50,322.50 373.00,319.50 391.30,327.50 445.50,325.80 468.00,331.30 504.50,337.50" fill="none" stroke="#000" stroke-width="1.95" stroke-linejoin="round" clip-path="url(#c9)"/>
<clipPath id="c10"><rect x="333.30" y="240" width="113.20" height="126"/><rect x="453.50" y="240" width="29.50" height="126"/><rect x="489.80" y="240" width="34.20" height="126"/></clipPath>
<line x1="336.30" y1="316.80" x2="336.30" y2="312.00" stroke="#000" stroke-width="1.8" />
<line x1="331.70" y1="312.00" x2="340.90" y2="312.00" stroke="#000" stroke-width="1.8" />
<line x1="336.30" y1="316.80" x2="336.30" y2="321.60" stroke="#000" stroke-width="1.8" />
<line x1="331.70" y1="321.60" x2="340.90" y2="321.60" stroke="#000" stroke-width="1.8" />
<line x1="355.00" y1="272.50" x2="355.00" y2="262.50" stroke="#000" stroke-width="1.8" />
<line x1="350.40" y1="262.50" x2="359.60" y2="262.50" stroke="#000" stroke-width="1.8" />
<line x1="355.00" y1="272.50" x2="355.00" y2="281.30" stroke="#000" stroke-width="1.8" />
<line x1="350.40" y1="281.30" x2="359.60" y2="281.30" stroke="#000" stroke-width="1.8" />
<line x1="373.00" y1="263.80" x2="373.00" y2="254.30" stroke="#000" stroke-width="1.8" />
<line x1="368.40" y1="254.30" x2="377.60" y2="254.30" stroke="#000" stroke-width="1.8" />
<line x1="373.00" y1="263.80" x2="373.00" y2="273.00" stroke="#000" stroke-width="1.8" />
<line x1="368.40" y1="273.00" x2="377.60" y2="273.00" stroke="#000" stroke-width="1.8" />
<line x1="391.30" y1="273.00" x2="391.30" y2="264.30" stroke="#000" stroke-width="1.8" />
<line x1="386.70" y1="264.30" x2="395.90" y2="264.30" stroke="#000" stroke-width="1.8" />
<line x1="391.30" y1="273.00" x2="391.30" y2="282.00" stroke="#000" stroke-width="1.8" />
<line x1="386.70" y1="282.00" x2="395.90" y2="282.00" stroke="#000" stroke-width="1.8" />
<line x1="445.50" y1="285.50" x2="445.50" y2="276.80" stroke="#000" stroke-width="1.8" />
<line x1="440.90" y1="276.80" x2="450.10" y2="276.80" stroke="#000" stroke-width="1.8" />
<line x1="445.50" y1="285.50" x2="445.50" y2="294.30" stroke="#000" stroke-width="1.8" />
<line x1="440.90" y1="294.30" x2="450.10" y2="294.30" stroke="#000" stroke-width="1.8" />
<line x1="504.50" y1="323.80" x2="504.50" y2="315.50" stroke="#000" stroke-width="1.8" />
<line x1="499.90" y1="315.50" x2="509.10" y2="315.50" stroke="#000" stroke-width="1.8" />
<line x1="504.50" y1="323.80" x2="504.50" y2="332.50" stroke="#000" stroke-width="1.8" />
<line x1="499.90" y1="332.50" x2="509.10" y2="332.50" stroke="#000" stroke-width="1.8" />
<rect x="332.35" y="312.85" width="7.90" height="7.90" fill="#000" stroke="#000" stroke-width="0.5"/>
<rect x="351.05" y="268.55" width="7.90" height="7.90" fill="#000" stroke="#000" stroke-width="0.5"/>
<rect x="369.05" y="259.85" width="7.90" height="7.90" fill="#000" stroke="#000" stroke-width="0.5"/>
<rect x="387.35" y="269.05" width="7.90" height="7.90" fill="#000" stroke="#000" stroke-width="0.5"/>
<rect x="441.55" y="281.55" width="7.90" height="7.90" fill="#000" stroke="#000" stroke-width="0.5"/>
<rect x="464.05" y="289.05" width="7.90" height="7.90" fill="#000" stroke="#000" stroke-width="0.5"/>
<rect x="500.55" y="319.85" width="7.90" height="7.90" fill="#000" stroke="#000" stroke-width="0.5"/>
<polyline points="336.30,316.80 355.00,272.50 373.00,263.80 391.30,273.00 445.50,285.50 468.00,293.00 504.50,323.80" fill="none" stroke="#000" stroke-width="1.95" stroke-linejoin="round" clip-path="url(#c10)"/>
<text text-anchor="middle" y="264.28"><tspan x="343.06 351.96" font-size="21.20" stroke-width="0.5">**</tspan><tspan x="360.60" y="258.72" font-size="14.31" stroke-width="0.6">#</tspan></text>
<text text-anchor="middle" y="253.08"><tspan x="367.56 376.46" font-size="21.20" stroke-width="0.5">**</tspan><tspan x="385.10" y="247.52" font-size="14.31" stroke-width="0.6">#</tspan></text>
<text text-anchor="middle" y="267.68"><tspan x="386.76 395.66" font-size="21.20" stroke-width="0.5">**</tspan><tspan x="404.30" y="262.12" font-size="14.31" stroke-width="0.6">#</tspan></text>
<text text-anchor="middle" y="278.28"><tspan x="439.65 448.55" font-size="21.20" stroke-width="0.5">**</tspan></text>
<text text-anchor="middle" y="291.58"><tspan x="463.55 472.45" font-size="21.20" stroke-width="0.5">**</tspan></text>
<line x1="439.20" y1="232.30" x2="456.50" y2="232.30" stroke="#000" stroke-width="1.8" />
<polygon points="447.85,228.10 451.85,235.50 443.85,235.50" fill="#000" stroke="#000" stroke-width="0.5" stroke-linejoin="miter"/>
<text x="459.60" y="235.08" font-size="11.6" text-anchor="start" font-weight="normal" >Vehicle</text>
<line x1="439.20" y1="244.80" x2="456.50" y2="244.80" stroke="#000" stroke-width="1.8" />
<rect x="443.90" y="240.85" width="7.90" height="7.90" fill="#000" stroke="#000" stroke-width="0.5"/>
<text x="459.60" y="248.78" font-size="11.6" text-anchor="start" font-weight="normal" >CP 55,940</text>
</svg>
</body></html>
